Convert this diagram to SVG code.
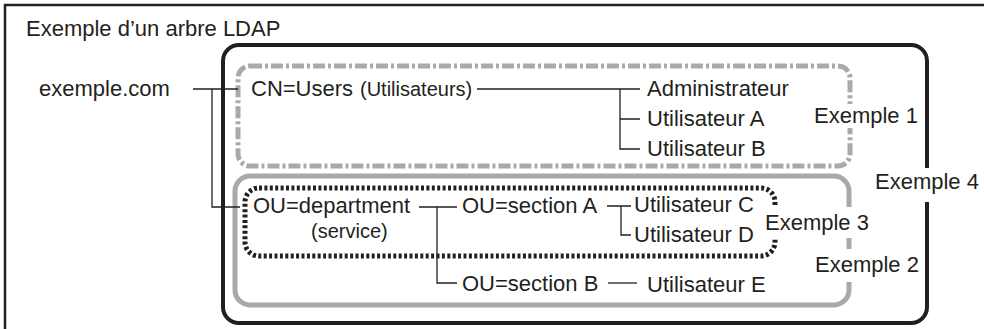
<svg xmlns="http://www.w3.org/2000/svg" width="984" height="329" viewBox="0 0 984 329">
<style>
text{font-family:"Liberation Sans",Arial,Helvetica,sans-serif;fill:#231f20}
.t{font-size:22px}
.s{font-size:20px}
.bg{fill:#fff;stroke:none}
.conn{fill:none;stroke:#231f20;stroke-width:1.3}
.grey{fill:none;stroke:#a7a9ac;stroke-width:5}
</style>
<rect width="984" height="329" fill="#fff"/>
<path d="M5 329V5H984" fill="none" stroke="#231f20" stroke-width="2.5"/>
<g id="title"><text class="t" x="26" y="36">Exemple d’un arbre LDAP</text></g>

<g id="ex4"><rect x="223" y="45" width="704" height="278" rx="16" fill="none" stroke="#231f20" stroke-width="4"/></g>
<g id="ex1"><rect x="238" y="66" width="612" height="100" rx="12" class="grey" stroke-dasharray="12 3 3 3"/></g>
<g id="ex2"><rect x="235" y="176" width="614" height="129" rx="15" class="grey"/></g>
<g id="ex3"><rect x="245" y="188" width="530" height="68" rx="14" fill="none" stroke="#231f20" stroke-width="5" stroke-dasharray="3 2.4"/></g>

<g id="connectors">
<path class="conn" d="M193 89H238M212 89V207H240"/>
<path class="conn" d="M477 89H640M620 89V149H640M620 119H640"/>
<path class="conn" d="M419 207H457M437 207V283H457"/>
<path class="conn" d="M607 206H631M621 206V235H631"/>
<path class="conn" d="M608 283H637"/>
</g>

<g id="exemple-com"><text class="t" x="39" y="96">exemple.com</text></g>
<g id="cn-users"><text class="t" x="251" y="96">CN=Users</text><text class="s" x="360" y="96">(Utilisateurs)</text></g>
<g id="administrateur"><text class="t" x="647" y="96">Administrateur</text></g>
<g id="utilisateur-a"><text class="t" x="647" y="126">Utilisateur A</text></g>
<g id="utilisateur-b"><text class="t" x="647" y="156">Utilisateur B</text></g>
<g id="ou-department"><text class="t" x="253" y="213">OU=department</text><text class="s" x="311" y="238">(service)</text></g>
<g id="ou-section-a"><text class="t" x="462" y="213">OU=section A</text></g>
<g id="utilisateur-c"><text class="t" x="634" y="212">Utilisateur C</text></g>
<g id="utilisateur-d"><text class="t" x="634" y="242">Utilisateur D</text></g>
<g id="ou-section-b"><text class="t" x="462" y="291">OU=section B</text></g>
<g id="utilisateur-e"><text class="t" x="647" y="292">Utilisateur E</text></g>

<g id="label-ex1"><rect class="bg" x="810" y="104" width="110" height="24"/><text class="t" x="814" y="123">Exemple 1</text></g>
<g id="label-ex4"><rect class="bg" x="870" y="168" width="112" height="34"/><text class="t" x="875" y="189">Exemple 4</text></g>
<g id="label-ex3"><rect class="bg" x="762" y="207" width="108" height="31"/><text class="t" x="765" y="230">Exemple 3</text></g>
<g id="label-ex2"><rect class="bg" x="812" y="249" width="108" height="33"/><text class="t" x="815" y="272">Exemple 2</text></g>
</svg>
